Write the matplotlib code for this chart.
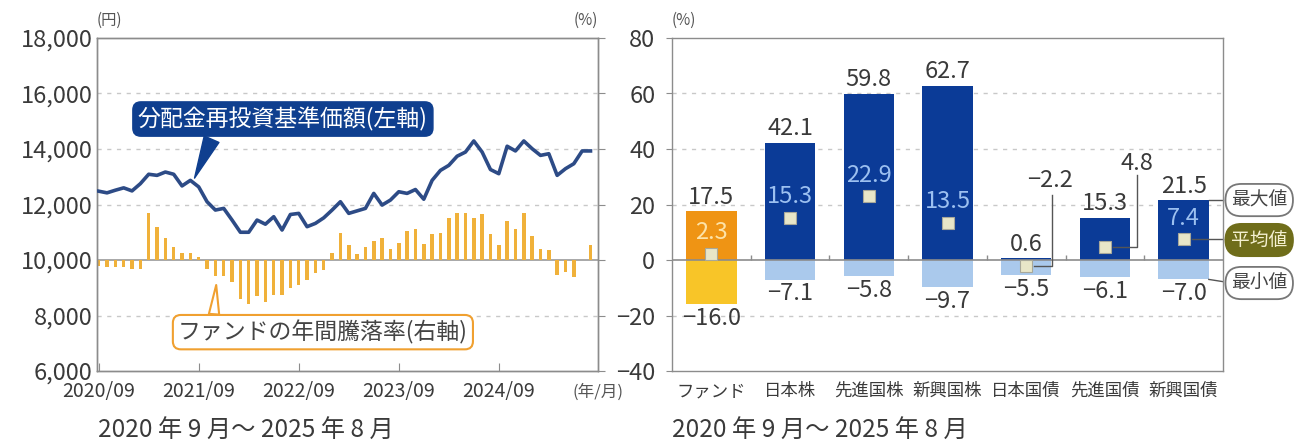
import numpy as np
import matplotlib.pyplot as plt
from matplotlib.ticker import FuncFormatter

plt.rcParams['font.family'] = ['Noto Sans CJK JP', 'DejaVu Sans']
plt.rcParams['axes.unicode_minus'] = True

# left chart: monthly data 2020/09 - 2025/08
nav = [12480, 12420, 12515, 12600, 12490, 12750, 13090, 13050, 13170, 13090,
       12670, 12870, 12635, 12100, 11800, 11860, 11440, 11000, 11000, 11440,
       11290, 11560, 11080, 11640, 11680, 11200, 11320, 11520, 11800, 12100,
       11680, 11770, 11860, 12400, 11980, 12160, 12460, 12400, 12540, 12190,
       12870, 13230, 13410, 13740, 13890, 14290, 13890, 13260, 13110, 14100,
       13930, 14290, 14010, 13770, 13830, 13050, 13290, 13470, 13930, 13930]
fund_return = [-2.0, -2.4, -2.4, -2.6, -3.4, -3.4, 17.0, 11.8, 7.8, 4.8,
               2.4, 2.6, 1.2, -3.4, -5.8, -5.8, -7.8, -14.0, -16.0, -13.0,
               -15.0, -12.6, -12.6, -10.2, -9.0, -7.2, -4.8, -3.6, 2.4, 9.6,
               5.4, 2.0, 4.8, 7.0, 8.1, 4.0, 6.2, 10.4, 11.0, 5.8,
               9.4, 9.6, 15.2, 16.8, 17.1, 15.3, 16.5, 9.4, 5.4, 14.1,
               11.1, 17.0, 8.7, 3.9, 3.6, -5.4, -4.2, -6.0, 0.0, 5.4]
xtick_labels = ['2020/09', '2021/09', '2022/09', '2023/09', '2024/09']

# right chart
categories = ['ファンド', '日本株', '先進国株', '新興国株', '日本国債', '先進国債', '新興国債']
max_vals = [17.5, 42.1, 59.8, 62.7, 0.6, 15.3, 21.5]
mean_vals = [2.3, 15.3, 22.9, 13.5, -2.2, 4.8, 7.4]
min_vals = [-16.0, -7.1, -5.8, -9.7, -5.5, -6.1, -7.0]

W, H = 1301, 444
grid_kw = dict(color='#c8c8c8', lw=1, ls=(0, (3, 4)), zorder=0)
spine_c = '#8c8c8c'
txt_c = '#3a3a3a'


def fmt(v):
    return f'{v:.1f}'.replace('-', '−')


fig = plt.figure(figsize=(W / 100, H / 100), dpi=100)
fig.patch.set_facecolor('white')

# ---------- left chart ----------
ax1 = fig.add_axes([97 / W, 1 - 371 / H, 501 / W, 333 / H])
ax1b = ax1.twinx()
ax1.set_zorder(ax1b.get_zorder() + 1)
ax1.patch.set_visible(False)

x = np.arange(len(nav))
ax1b.bar(x, fund_return, width=0.42, color='#f0b13a', zorder=2)
ax1.plot(x, nav, color='#2d4b86', lw=2.6, zorder=3)

ax1.set_xlim(-0.2, 59.9)
ax1.set_ylim(6000, 18000)
ax1b.set_ylim(-40, 80)
for yv in [8000, 12000, 14000, 16000]:
    ax1b.axhline((yv - 10000) / 100, **grid_kw)
ax1b.axhline(0, color='#999999', lw=1.2, zorder=1)

ax1.set_yticks(range(6000, 18001, 2000))
ax1.yaxis.set_major_formatter(FuncFormatter(lambda v, p: f'{int(v):,}'))
ax1.tick_params(axis='y', length=0, pad=3, labelsize=17, labelcolor=txt_c)
ax1.set_xticks(range(0, 60, 12))
ax1.set_xticklabels(xtick_labels)
ax1.tick_params(axis='x', direction='in', length=6, color=spine_c, pad=7,
                labelsize=14, labelcolor=txt_c)
ax1b.set_yticks(range(-40, 81, 20))
ax1b.tick_params(axis='y', direction='out', length=5, color=spine_c, labelright=False)
for ax in (ax1, ax1b):
    for s in ax.spines.values():
        s.set_color(spine_c)
        s.set_linewidth(1)

ax1.text(1.0, -0.065, '(年/月)', transform=ax1.transAxes, ha='center', va='center',
         fontsize=12, color='#555555')
fig.text(97 / W, 1 - 20 / H, '(円)', ha='left', va='center', fontsize=11, color='#555555')
fig.text(598 / W, 1 - 20 / H, '(%)', ha='right', va='center', fontsize=11, color='#555555')

ax1.annotate('分配金再投資基準価額(左軸)', xy=(11.5, 12950), xytext=(22.1, 15080),
             ha='center', va='center', fontsize=16.5, color='white',
             bbox=dict(boxstyle='round,pad=0.22,rounding_size=0.35', fc='#0f3f8f', ec='#0f3f8f'),
             arrowprops=dict(arrowstyle='wedge,tail_width=0.7,shrink_factor=0.5', fc='#0f3f8f',
                             ec='#0f3f8f', relpos=(0.27, 0.1), shrinkB=0),
             zorder=6)
ax1b.annotate('ファンドの年間騰落率(右軸)', xy=(14.1, -9.0), xytext=(26.9, -26.0),
              ha='center', va='center', fontsize=16.5, color='#444444',
              bbox=dict(boxstyle='round,pad=0.22,rounding_size=0.35', fc='white', ec='#f0a030', lw=1.5),
              arrowprops=dict(arrowstyle='wedge,tail_width=0.45,shrink_factor=0.5', fc='white',
                              ec='#f0a030', lw=1.5, relpos=(0.12, 0.5), shrinkA=0, shrinkB=0),
              zorder=6)

fig.text(98 / W, 1 - 431 / H, '2020 年 9 月～ 2025 年 8 月', ha='left', va='center',
         fontsize=17.5, color=txt_c)

# ---------- right chart ----------
ax2 = fig.add_axes([672 / W, 1 - 371 / H, 551 / W, 333 / H])
pos = np.arange(len(categories))
pos_colors = ['#ef9414'] + ['#0b3b97'] * 6
neg_colors = ['#f8c528'] + ['#aac9ec'] * 6
ax2.bar(pos, max_vals, width=0.64, color=pos_colors, zorder=2)
ax2.bar(pos, min_vals, width=0.64, color=neg_colors, zorder=2)
for yv in [-20, 20, 40, 60]:
    ax2.axhline(yv, **grid_kw)
ax2.axhline(0, color='#8c8c8c', lw=1.2, zorder=3)
ax2.vlines(pos[:-1] + 0.5, 0, 1.8, color='#8c8c8c', lw=1, zorder=3)
ax2.plot(pos, mean_vals, 's', ms=8, mfc='#e8e6c8', mec='#a8a89a', mew=0.8, zorder=5)

ax2.set_xlim(-0.5, 6.5)
ax2.set_ylim(-40, 80)
ax2.set_yticks(range(-40, 81, 20))
ax2.yaxis.set_major_formatter(FuncFormatter(lambda v, p: f'{int(v)}'.replace('-', '−')))
ax2.tick_params(axis='y', direction='out', length=4, pad=8, color=spine_c,
                labelsize=17, labelcolor=txt_c)
ax2.set_xticks(pos)
ax2.set_xticklabels(categories)
ax2.tick_params(axis='x', length=0, pad=8, labelsize=12.5, labelcolor=txt_c)
for s in ax2.spines.values():
    s.set_color(spine_c)
    s.set_linewidth(1)

for i in pos:
    ax2.annotate(fmt(max_vals[i]), (i, max_vals[i]), xytext=(0, 2), textcoords='offset points',
                 ha='center', va='bottom', fontsize=17, color=txt_c, zorder=6)
    ax2.annotate(fmt(min_vals[i]), (i, min_vals[i]), xytext=(0, -2), textcoords='offset points',
                 ha='center', va='top', fontsize=17, color=txt_c, zorder=6)
    if i in (4, 5):
        continue
    mc = '#fde3a8' if i == 0 else '#9cc0f0'
    ax2.annotate(fmt(mean_vals[i]), (i, mean_vals[i]), xytext=(0, 7), textcoords='offset points',
                 ha='center', va='bottom', fontsize=17, color=mc, zorder=6)

# leader lines for the small means
ax2.plot([4.1, 4.33, 4.33], [mean_vals[4], mean_vals[4], 23.5], color='#555555', lw=1, zorder=4)
ax2.text(4.3, 24.5, fmt(mean_vals[4]), ha='center', va='bottom', fontsize=17, color=txt_c)
ax2.plot([5.1, 5.41, 5.41], [mean_vals[5], mean_vals[5], 30.5], color='#555555', lw=1, zorder=4)
ax2.text(5.41, 30.8, fmt(mean_vals[5]), ha='center', va='bottom', fontsize=17, color=txt_c)

# legend pills
pill = dict(boxstyle='round,pad=0.3,rounding_size=0.85', fc='white', ec='#777777', lw=1.3)
ax2.plot([6.32, 6.5], [max_vals[6], max_vals[6]], color='#555555', lw=1, clip_on=False)
ax2.text(6.96, max_vals[6] + 0.1, '最大値', ha='center', va='center', fontsize=13.5,
         color='#444444', bbox=pill, clip_on=False)
ax2.plot([6.1, 6.5], [mean_vals[6], mean_vals[6]], color='#555555', lw=1, clip_on=False)
ax2.text(6.96, mean_vals[6] - 0.2, '平均値', ha='center', va='center', fontsize=13.5,
         color='#f4f0d0', clip_on=False,
         bbox=dict(boxstyle='round,pad=0.3,rounding_size=0.85', fc='#6f6d1a', ec='#6f6d1a', lw=1.3))
ax2.plot([6.32, 6.5], [min_vals[6], -7.8], color='#555555', lw=1, clip_on=False)
ax2.text(6.96, -8.3, '最小値', ha='center', va='center', fontsize=13.5,
         color='#444444', bbox=pill, clip_on=False)

fig.text(672 / W, 1 - 20 / H, '(%)', ha='left', va='center', fontsize=11, color='#555555')
fig.text(672 / W, 1 - 431 / H, '2020 年 9 月～ 2025 年 8 月', ha='left', va='center',
         fontsize=17.5, color=txt_c)

fig.savefig('out.png', dpi=100, facecolor='white')
